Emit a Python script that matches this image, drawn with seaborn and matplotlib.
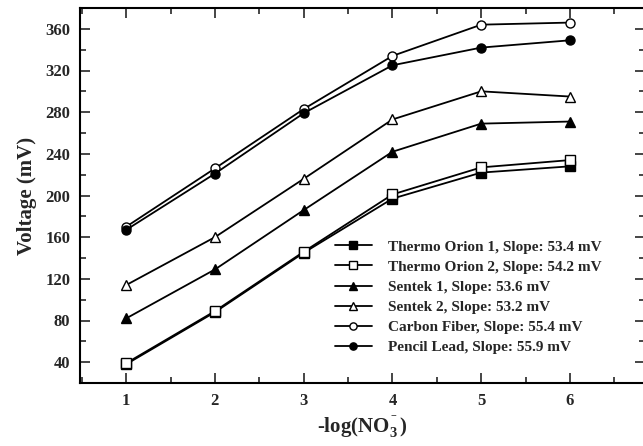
import matplotlib
matplotlib.use("Agg")
import matplotlib.pyplot as plt
import seaborn as sns
import pandas as pd
from matplotlib.ticker import MultipleLocator

sns.set_theme(style="ticks")
plt.rcParams['font.family'] = ['Liberation Serif', 'DejaVu Serif']
plt.rcParams['font.weight'] = 'bold'
plt.rcParams['mathtext.fontset'] = 'custom'
plt.rcParams['mathtext.rm'] = 'Liberation Serif:bold'
plt.rcParams['mathtext.it'] = 'Liberation Serif:bold'
plt.rcParams['mathtext.bf'] = 'Liberation Serif:bold'

x_vals = [1, 2, 3, 4, 5, 6]
labels = [
    "Thermo Orion 1, Slope: 53.4 mV",
    "Thermo Orion 2, Slope: 54.2 mV",
    "Sentek 1, Slope: 53.6 mV",
    "Sentek 2, Slope: 53.2 mV",
    "Carbon Fiber, Slope: 55.4 mV",
    "Pencil Lead, Slope: 55.9 mV",
]
thermo1 = [38, 88, 145, 197, 222, 228]
thermo2 = [39, 89, 146, 201, 227, 234]
sentek1 = [82, 129, 186, 242, 269, 271]
sentek2 = [114, 160, 216, 273, 300, 295]
carbon = [170, 226, 283, 334, 364, 366]
pencil = [167, 221, 279, 325, 342, 349]
series = [thermo1, thermo2, sentek1, sentek2, carbon, pencil]
markers = ['s', 's', '^', '^', 'o', 'o']
filled = [True, False, True, False, False, True]

fig = plt.figure(figsize=(6.43, 4.46), dpi=100)
ax = fig.add_axes([80/643, 63/446, 565/643, 375/446])

for lab, vals, m, f in zip(labels, series, markers, filled):
    df = pd.DataFrame({"x": x_vals, "y": vals})
    sns.lineplot(data=df, x="x", y="y", ax=ax, color="black", marker=m,
                 markersize=6.5, markerfacecolor=("black" if f else "white"),
                 markeredgecolor="black", markeredgewidth=1.0, linewidth=1.3,
                 label=lab)

ax.set_xlim(0.48, 6.845)
ax.set_ylim(20, 380)
ax.set_xticks(x_vals)
ax.set_yticks(range(40, 361, 40))
ax.xaxis.set_minor_locator(MultipleLocator(0.5))
ax.yaxis.set_minor_locator(MultipleLocator(20))
ax.tick_params(which='both', direction='in', top=True, right=True, width=1.2)
ax.tick_params(which='major', length=7, labelsize=12, pad=7)
ax.tick_params(which='minor', length=4)
for s in ax.spines.values():
    s.set_linewidth(1.5)
    s.set_color("black")
for t in ax.get_xticklabels() + ax.get_yticklabels():
    t.set_fontweight('bold')

ax.set_xlabel(r"-log(NO$_3^{^-}$)", fontsize=15, fontweight='bold', labelpad=4)
ax.set_ylabel("Voltage (mV)", fontsize=15, fontweight='bold', labelpad=6)

leg = ax.legend(loc="upper left", bbox_to_anchor=(335/643, 1 - 240/446),
                bbox_transform=fig.transFigure, frameon=False,
                prop={'family': 'Liberation Serif', 'weight': 'bold', 'size': 11},
                handlelength=2.4, handletextpad=1.1, labelspacing=0.42,
                markerscale=0.8, borderaxespad=0, borderpad=0)

fig.savefig("out.png", dpi=100)
